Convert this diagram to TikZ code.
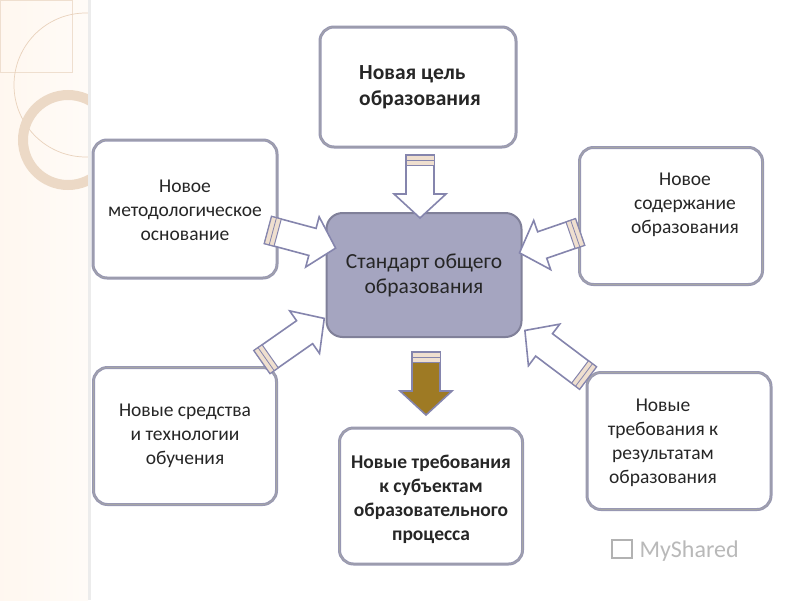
\documentclass[tikz,border=0pt]{standalone}
\usepackage{fontspec}
\setmainfont{Carlito}
\begin{document}
\begin{tikzpicture}[x=1pt,y=-1pt,
  box/.style={draw=blue!15!gray!70!white,line width=3pt,rounded corners=14pt,fill=white,
     postaction={draw=gray!70,line width=0.6pt}},
  txt/.style={align=center,font=\fontsize{19.5}{24}\selectfont,text=black!85},
  arr/.style={fill=white,draw=blue!20!gray!80,line width=1.6pt,line join=miter},
  strip/.style={fill=brown!25!white,draw=blue!20!gray!80,line width=1pt}]
\useasboundingbox (0,0) rectangle (800,600);
\fill[white] (0,0) rectangle (800,600);
% left strip decoration
\begin{scope}
\clip (0,0) rectangle (88,600);
\shade[left color=orange!6!white,right color=orange!3!white] (0,0) rectangle (88,600);
\draw[brown!25!white,line width=0.6pt] (0,0) rectangle (72,72);
\draw[brown!35!white,line width=0.7pt] (86,85) circle (72);
\draw[brown!30!white,line width=10pt] (68,140) circle (45);
\end{scope}
\fill[gray!15] (88,0) rectangle (91,600);
\newcommand\blockarrow[5]{% x,y,angle,length,fill
  \begin{scope}[shift={(#1,#2)},rotate=#3]
  \draw[arr,fill=#5] (0,-14)--(#4-24,-14)--(#4-24,-26)--(#4,0)--(#4-24,26)--(#4-24,14)--(0,14)--cycle;
  \draw[strip] (0,-14) rectangle (10,14);
  \draw[blue!20!gray!80,line width=0.8pt] (5,-14)--(5,14);
  \end{scope}}
% boxes
\node[box,minimum width=196,minimum height=120] (goal) at (418,87) {};
\node[txt,font=\fontsize{21.5}{26}\selectfont\bfseries,align=left] at (420,87) {Новая цель\\образования};
\node[box,minimum width=184,minimum height=138] (meth) at (185,209) {};
\node[txt] at (185,210) {Новое\\методологическое\\основание};
\node[box,minimum width=183,minimum height=137] (cont) at (671,216) {};
\node[txt] at (685,205) {Новое\\содержание\\образования};
\node[draw=white!50!blue!20!gray,line width=2pt,rounded corners=16pt,fill=blue!18!gray!60!white,minimum width=195,minimum height=124,txt,font=\fontsize{21.5}{25}\selectfont] (std) at (424,275) {Стандарт общего\\образования};
\node[box,minimum width=183,minimum height=137] (tech) at (185,436) {};
\node[txt] at (185,436) {Новые средства\\и технологии\\обучения};
\node[box,minimum width=183,minimum height=136] (subj) at (431,496) {};
\node[txt,font=\fontsize{19.5}{24}\selectfont\bfseries] at (431,499) {Новые требования\\к субъектам\\образовательного\\процесса};
\node[box,minimum width=184,minimum height=137] (res) at (679,441) {};
\node[txt] at (663,443) {Новые\\требования к\\результатам\\образования};
% arrows
\blockarrow{420}{155}{-90}{63}{white}
\blockarrow{268}{230}{-15}{70}{white}
\blockarrow{580}{232}{-161}{64}{white}
\blockarrow{262}{362}{35}{76}{white}
\blockarrow{588}{378}{143}{79}{white}
\blockarrow{426}{352}{-90}{63}{brown!70!black!80!yellow}
\draw[gray!60,line width=2pt] (612,540) rectangle (632,558);
\node[text=gray!55,font=\fontsize{24}{24}\selectfont,anchor=west] (logo) at (636,551) {MyShared};
\end{tikzpicture}
\end{document}
